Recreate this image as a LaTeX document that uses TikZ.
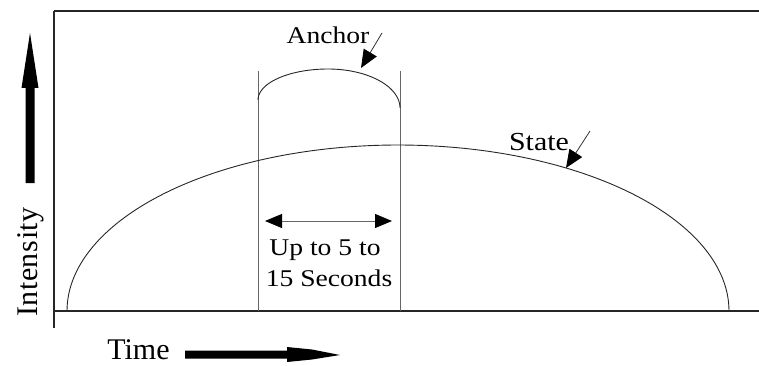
\documentclass[tikz,border=0pt]{standalone}
\usepackage{fontspec}
\setmainfont{Liberation Serif}
\newfontfamily\labfont[FakeStretch=1.15]{Liberation Serif}
\usetikzlibrary{arrows.meta}
\tikzset{
  frame/.style={line width=1.1pt, black!85},
  guide/.style={line width=0.8pt, black!60},
  curve/.style={line width=0.9pt, black!85},
  labtext/.style={font=\labfont\fontsize{24}{28}\selectfont, inner sep=0pt},
  axtext/.style={font=\fontsize{30}{34}\selectfont, inner sep=0pt},
  callout/.style={line width=0.8pt, black!80, -{Triangle[length=18pt,width=15pt,black]}},
  span/.style={line width=1pt, black!60, {Triangle[length=17pt,width=14pt,black]}-{Triangle[length=17pt,width=14pt,black]}},
  bigarrow/.style={fill=black, draw=none}
}
\begin{document}
\begin{tikzpicture}[x=1pt,y=-1pt]
\useasboundingbox (0,0) rectangle (759,366);
% frame
\coordinate (tl) at (54,11);
\coordinate (tr) at (759,11);
\coordinate (bl) at (54,311);
\coordinate (br) at (759,311);
\coordinate (blx) at (54,328);
\draw[frame] (tl) -- (tr);
\draw[frame] (bl) -- (br);
\draw[frame, line width=1.5pt] (tl) -- (blx);
% guide lines
\coordinate (g1t) at (258,71);
\coordinate (g1b) at (258,311);
\coordinate (g2t) at (400,71);
\coordinate (g2b) at (400,311);
\draw[guide] (g1t) -- (g1b);
\draw[guide] (g2t) -- (g2b);
% state curve (half ellipse)
\draw[curve] plot[domain=180:0, samples=120, smooth] ({398+331*cos(\x)},{311-166*sin(\x)});
% anchor curve
\draw[curve] plot[domain=180:90, samples=40, smooth] ({328+70*cos(\x)},{100-31*sin(\x)})
  -- plot[domain=90:0, samples=40, smooth] ({328+72*cos(\x)},{108-39*sin(\x)});
% labels
\node[labtext, anchor=base] (anchorlab) at (328,44) {Anchor};
\node[labtext, font=\labfont\fontsize{26}{30}\selectfont, anchor=base] (statelab) at (539,150) {State};
\node[labtext, anchor=base] (up1) at (325,255) {Up to 5 to};
\node[labtext, anchor=base] (up2) at (329,286) {15 Seconds};
\node[axtext, rotate=90, anchor=base] (intens) at (37,262) {I\kern0.5pt n\kern0.5pt t\kern0.5pt e\kern0.5pt n\kern1pt s\kern0.5pt i\kern0.5pt t\kern0.5pt y};
\node[axtext, anchor=base] (time) at (138.5,359.5) {Time};
% callouts
\coordinate (anchorfrom) at (382,33);
\coordinate (anchortip) at (361,68);
\draw[callout] (anchorfrom) -- (anchortip);
\coordinate (statefrom) at (590,131);
\coordinate (statetip) at (566,168);
\draw[callout] (statefrom) -- (statetip);
% span arrow
\coordinate (spanl) at (265,221);
\coordinate (spanr) at (392,221);
\draw[span] (spanl) -- (spanr);
% intensity arrow
\fill[bigarrow] (25.5,183) -- (25.5,88) -- (21.5,88) -- (30,33) -- (38.5,88) -- (34.5,88) -- (34.5,183) -- cycle;
% time arrow
\fill[bigarrow] (185,350.5) -- (287,350.5) -- (287,347) -- (312,349.5) -- (340,355) -- (312,359.5) -- (287,362) -- (287,358.5) -- (185,358.5) -- cycle;
\end{tikzpicture}
\end{document}
